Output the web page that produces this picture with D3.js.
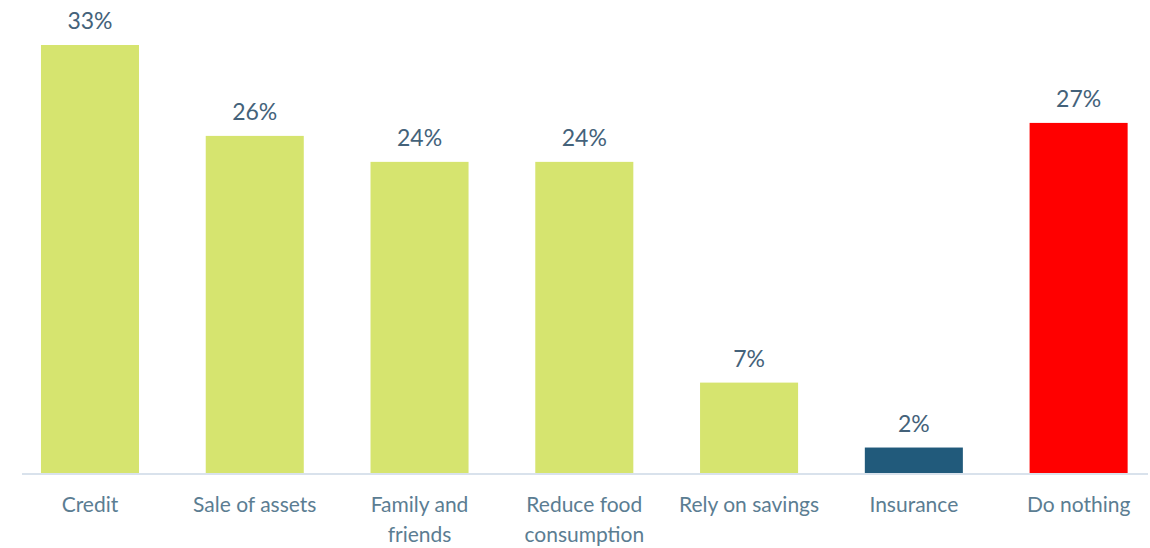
<!DOCTYPE html>
<html>
<head>
<meta charset="utf-8">
<script src="https://cdn.jsdelivr.net/npm/d3@7/dist/d3.min.js"></script>
<style>
  html, body { margin: 0; padding: 0; background: #fff; }
  svg { display: block; }
</style>
</head>
<body>
<svg id="chart" width="1150" height="548"></svg>
<script>
// Coping strategies: share of respondents (%)
const categories = [
  ["Credit"],
  ["Sale of assets"],
  ["Family and", "friends"],
  ["Reduce food", "consumption"],
  ["Rely on savings"],
  ["Insurance"],
  ["Do nothing"]
];
const values = [33, 26, 24, 24, 7, 2, 27];
const colors = ["#d6e46f", "#d6e46f", "#d6e46f", "#d6e46f", "#d6e46f", "#215a7b", "#ff0000"];

const svg = d3.select("#chart");
const baseY = 473.5;
const keys = categories.map(c => c.join(" "));

const x = d3.scaleBand()
  .domain(keys)
  .range([7.6, 1161])
  .paddingInner(0.405)
  .paddingOuter(0.2025);

const y = d3.scaleLinear()
  .domain([0, 33])
  .range([baseY, 45]);

const font = "Lato, 'Open Sans', sans-serif";

// bars
svg.append("g").selectAll("rect")
  .data(values)
  .join("rect")
  .attr("x", (d, i) => x(keys[i]))
  .attr("width", x.bandwidth())
  .attr("y", d => y(d))
  .attr("height", d => baseY - y(d))
  .attr("fill", (d, i) => colors[i]);

// baseline
svg.append("line")
  .attr("x1", 22).attr("x2", 1148)
  .attr("y1", baseY + 0.5).attr("y2", baseY + 0.5)
  .attr("stroke", "#d9e2ec").attr("stroke-width", 2);

// value labels
svg.append("g").selectAll("text")
  .data(values)
  .join("text")
  .attr("x", (d, i) => x(keys[i]) + x.bandwidth() / 2)
  .attr("y", d => y(d) - 16)
  .attr("text-anchor", "middle")
  .attr("font-family", font)
  .attr("font-size", 23)
  .attr("fill", "#44627a")
  .text(d => d + "%");

// category labels
const cat = svg.append("g").selectAll("text")
  .data(categories)
  .join("text")
  .attr("x", (d, i) => x(keys[i]) + x.bandwidth() / 2)
  .attr("y", 512)
  .attr("text-anchor", "middle")
  .attr("font-family", font)
  .attr("font-size", 21)
  .attr("fill", "#5b7d92");

cat.selectAll("tspan")
  .data((d, i) => d.map(t => ({ t, i })))
  .join("tspan")
  .attr("x", d => x(keys[d.i]) + x.bandwidth() / 2)
  .attr("dy", (d, j) => j === 0 ? 0 : 30)
  .text(d => d.t);
</script>
</body>
</html>
